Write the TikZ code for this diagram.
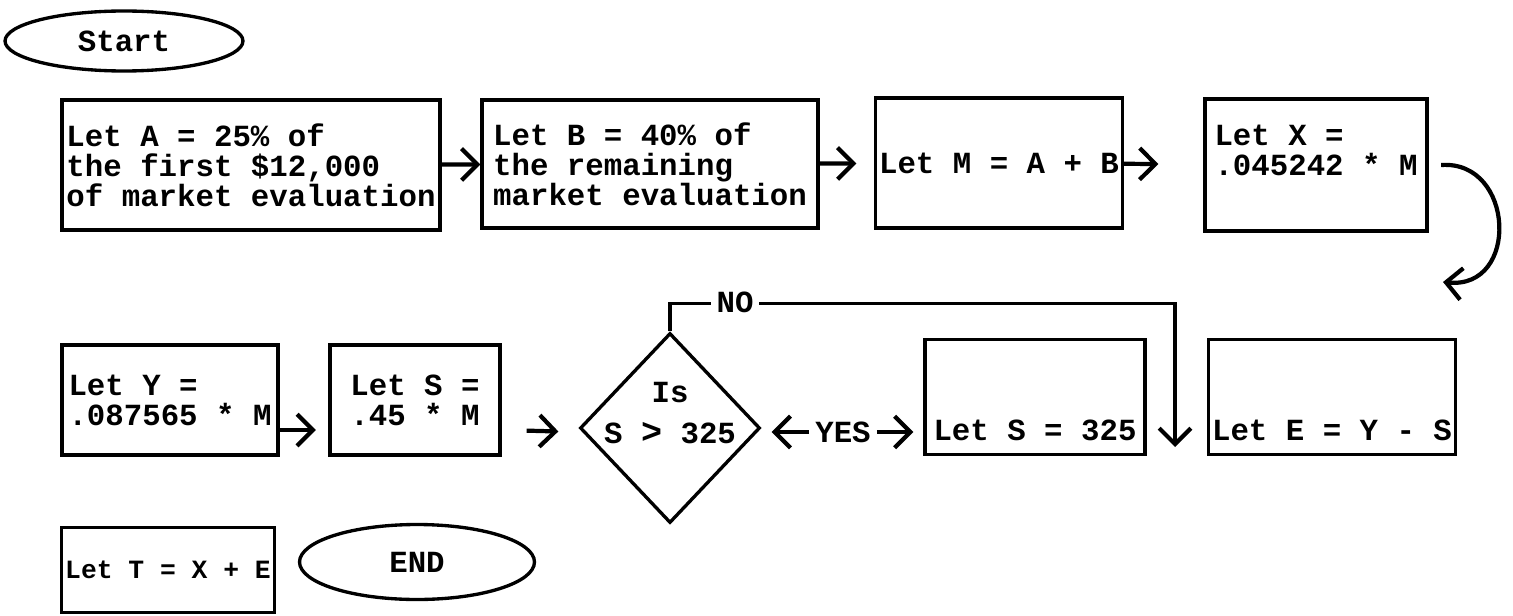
\documentclass[tikz,border=0pt]{standalone}
\usepackage{fontspec}
\setmonofont{Liberation Mono}
\usepackage{tikz}
\usetikzlibrary{arrows.meta, positioning, calc, shapes.geometric}
\newcommand{\tw}{\ttfamily\bfseries\fontsize{17.5}{17}\selectfont}
\newcommand{\tws}{\ttfamily\bfseries\fontsize{15}{15}\selectfont}

\begin{document}
\begin{tikzpicture}[
    x=0.02cm, y=-0.02cm,
    box/.style={draw, line width=1.9pt, font=\tw, inner sep=2pt},
    textbox/.style={box, align=left},
    lowbox/.style={box, text height=1.95cm, text depth=0.21cm},
    term/.style={draw, ellipse, line width=1.9pt, font=\tw, inner sep=0pt},
    test/.style={draw, diamond, line width=1.9pt, font=\tw, align=center, inner sep=-8pt},
    arrow/.style={-{Straight Barb[length=9pt,width=18pt,line width=2.4pt]}, line width=2.4pt},
]
    \useasboundingbox (0,0) rectangle (1513,615);

    % top row
    \node[term, minimum width=4.76cm, minimum height=1.2cm] (start) at (124,41) {Start};
    \node[textbox, minimum width=7.56cm, minimum height=2.6cm] (lta) at (251,165) {Let A = 25\% of\\the first \$12,000\\of market evaluation};
    \node[textbox, minimum width=6.72cm, minimum height=2.56cm] (ltb) at (650,164) {Let B = 40\% of\\the remaining\\market evaluation};
    \node[box, minimum width=4.76cm, minimum height=2.6cm] (ltm) at (999,163) {Let M = A + B};
    \node[textbox, minimum width=4.44cm, minimum height=2.64cm] (ltx) at (1316,165) {Let X =\\.045242 * M\\\mbox{}};

    \draw[arrow] (lta) -- (ltb);
    \draw[arrow, shorten >=0.35cm] (ltb) -- (ltm);
    \draw[arrow, shorten >=0.9cm] (ltm) -- (ltx);

    \coordinate (xnext) at (1443,282);
    \draw[arrow] ([xshift=0.25cm]ltx.east) .. controls (1515,160) and (1520,290) .. (xnext);

    % middle row
    \node[textbox, minimum width=4.32cm, minimum height=2.2cm] (lty) at (170,400) {Let Y =\\.087565 * M};
    \node[textbox, minimum width=3.4cm, minimum height=2.2cm] (lts) at (415,400) {Let S =\\.45 * M};
    \node[test, minimum width=3.6cm, minimum height=3.8cm] (test) at (670,428) {Is\\[6pt]S {\fontsize{20}{17}\selectfont>} 325\\\mbox{}};
    \node[font=\tw] (yes) at (843,432) {YES};
    \node[lowbox, minimum width=4.4cm] (cap) at (1035,397) {Let S = 325};
    \node[lowbox, minimum width=4.9cm] (lte) at (1332,397) {Let E = Y - S};

    \draw[arrow, shorten >=0.25cm] ($(lty.east)+(0,30)$) -- ($(lts.west)+(0,30)$);
    \draw[arrow, shorten <=0.5cm, shorten >=0.4cm] ($(lts.east)+(0,30)$) -- (test.west |- yes);
    \draw[arrow, shorten >=0.2cm] (yes.west) -- (test.east |- yes);
    \draw[arrow, shorten >=0.2cm] (yes.east) -- (cap.west |- yes);

    \coordinate (nodrop) at (1175,447);
    \draw[line width=1.9pt, -{Straight Barb[length=9pt,width=18pt,line width=2.4pt]}] (test.north) -- ++(0,-28) -| (nodrop);
    \node[font=\tw, fill=white, inner sep=3pt] (no) at (735,302) {NO};

    % bottom row
    \node[box, font=\tws, minimum width=4.26cm, minimum height=1.7cm] (ltt) at (168,570) {Let T = X + E};
    \node[term, minimum width=4.7cm, minimum height=1.5cm] (end) at (417,562) {END};
\end{tikzpicture}
\end{document}
